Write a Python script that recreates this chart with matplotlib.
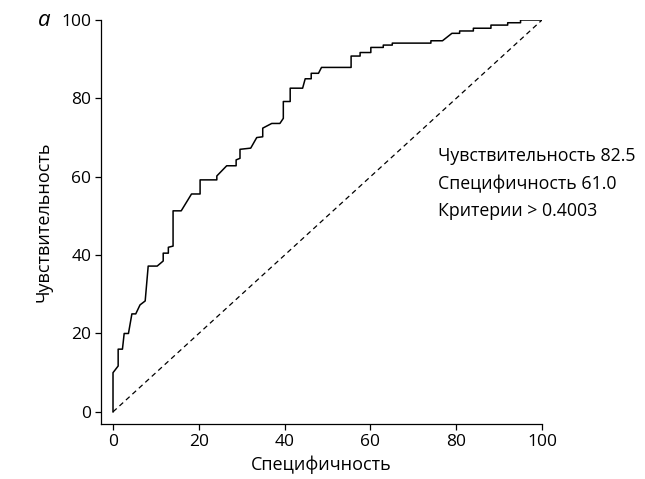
import matplotlib
matplotlib.use("Agg")
import matplotlib.pyplot as plt

plt.rcParams['font.family'] = ['Open Sans', 'DejaVu Sans']

# ROC curve vertices (specificity axis, sensitivity)
spec = [0, 0, 1.2, 1.2, 2.2, 2.6, 3.6, 4.4, 5.3, 6.3, 7.5, 8.2, 10.3, 11.7,
        11.7, 12.9, 12.9, 14, 14, 15.9, 18.3, 20.3, 20.3, 24.2, 24.2, 26.5,
        28.7, 28.7, 29.6, 29.6, 32.1, 33.5, 34.9, 34.9, 37, 38.9, 39.7, 39.7,
        41.3, 41.3, 44.2, 44.8, 46.2, 46.2, 47.9, 48.6, 55.5, 55.5, 57.6, 57.6,
        60.1, 60.1, 63, 63, 65.1, 65.1, 74.1, 74.1, 76.8, 79, 80.8, 80.8, 84,
        84, 88.1, 88.1, 92, 92, 95, 95, 100]
sens = [0, 10, 11.7, 16, 16, 20, 20, 25, 25, 27.3, 28.3, 37.2, 37.2, 38.5,
        40.5, 40.5, 42, 42.3, 51.3, 51.3, 55.6, 55.6, 59.2, 59.2, 60.2, 62.8,
        62.8, 64.3, 64.7, 67, 67.3, 70, 70.2, 72.4, 73.6, 73.6, 74.9, 79.2,
        79.2, 82.6, 82.6, 85, 85, 86.4, 86.4, 87.9, 87.9, 90.8, 90.8, 91.7,
        91.7, 93, 93, 93.6, 93.6, 94.1, 94.1, 94.7, 94.7, 96.6, 96.6, 97.2, 97.2,
        97.9, 97.9, 98.7, 98.7, 99.3, 99.3, 100, 100]

diag = [0, 100]
ticks = [0, 20, 40, 60, 80, 100]
info = ["Чувствительность 82.5", "Специфичность 61.0", "Критерии > 0.4003"]

fig = plt.figure(figsize=(6.45, 4.79), dpi=100)
ax = fig.add_axes([101 / 645, 1 - 424 / 479, 441 / 645, 404 / 479])

ax.plot(spec, sens, color='black', lw=1.1)
ax.plot(diag, diag, color='black', lw=0.9, ls=(0, (4, 3)))

ax.set_xlim(-2.8, 100)
ax.set_ylim(-3.1, 100)
ax.set_xticks(ticks)
ax.set_yticks(ticks)
for s in ['top', 'right']:
    ax.spines[s].set_visible(False)
for s in ['left', 'bottom']:
    ax.spines[s].set_linewidth(0.9)
ax.tick_params(direction='out', length=4, width=0.9, labelsize=12.5, pad=3)

ax.set_xlabel("Специфичность", fontsize=13, labelpad=4)
ax.set_ylabel("Чувствительность", fontsize=13, labelpad=6)

ax.text(0.765, 0.685, "\n".join(info), transform=ax.transAxes,
        fontsize=12.8, va='top', ha='left', linespacing=1.65)
fig.text(38 / 645, 1 - 20 / 479, "a", fontsize=16, style='italic',
         ha='left', va='center')

fig.savefig("out.png", dpi=100)
